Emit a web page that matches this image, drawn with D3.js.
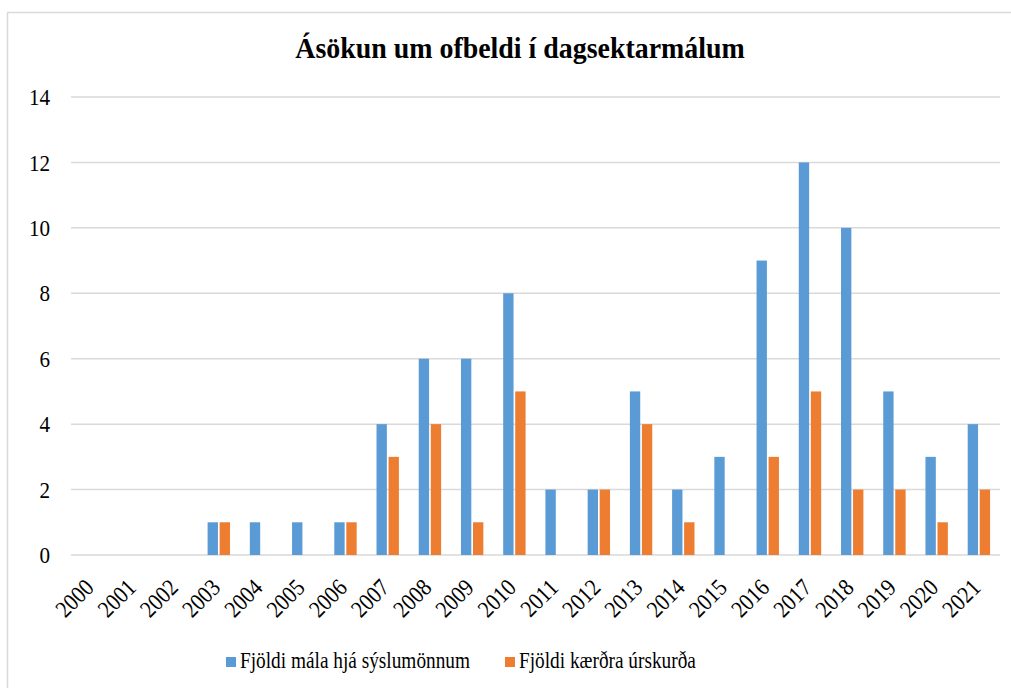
<!DOCTYPE html>
<html>
<head>
<meta charset="utf-8">
<script src="https://cdn.jsdelivr.net/npm/d3@7"></script>
<style>
  body { margin: 0; background: #fff; }
</style>
</head>
<body>
<svg class="chart"></svg>
<script>
const years = ["2000","2001","2002","2003","2004","2005","2006","2007","2008","2009","2010",
               "2011","2012","2013","2014","2015","2016","2017","2018","2019","2020","2021"];
const malaSyslumonnum = [0,0,0,1,1,1,1,4,6,6,8,2,2,5,2,3,9,12,10,5,3,4];
const kaerdraUrskurda = [0,0,0,1,0,0,1,3,4,1,5,0,2,4,1,0,3,5,2,2,1,2];
const seriesNames = ["Fjöldi mála hjá sýslumönnum", "Fjöldi kærðra úrskurða"];
const colors = ["#5B9BD5", "#ED7D31"];
const yTicks = [0, 2, 4, 6, 8, 10, 12, 14];

const FONT = "'Liberation Serif', 'Times New Roman', serif";
const W = 1011, H = 688;
const margin = { top: 97, right: 11, bottom: 133, left: 71 },
      width = W - margin.left - margin.right,
      height = H - margin.top - margin.bottom;

const root = d3.select(".chart").attr("width", W).attr("height", H);

// outer frame
root.append("rect")
    .attr("x", 7.5).attr("y", 12.5)
    .attr("width", W + 10).attr("height", H + 10)
    .attr("fill", "none").attr("stroke", "#d9d9d9").attr("stroke-width", 1.5);

root.append("text")
    .attr("transform", "translate(520, 58) scale(0.93, 1)")
    .attr("text-anchor", "middle")
    .style("font-family", FONT)
    .style("font-weight", "bold")
    .style("font-size", "30px")
    .text("Ásökun um ofbeldi í dagsektarmálum");

const svg = root.append("g")
    .attr("transform", `translate(${margin.left}, ${margin.top})`);

const x = d3.scaleBand().domain(years).range([0, width]).padding(0);
const x1 = d3.scaleBand().domain([0, 1]).range([x.bandwidth() * 0.235, x.bandwidth() * 0.765]).paddingInner(0.14);
const y = d3.scaleLinear().domain([0, 14]).range([height, 0]);

// gridlines
svg.append("g")
    .selectAll("line")
    .data(yTicks)
    .enter().append("line")
    .attr("x1", 0).attr("x2", width)
    .attr("y1", d => y(d)).attr("y2", d => y(d))
    .attr("stroke", "#d9d9d9").attr("stroke-width", 1.5);

// y axis labels
const yAxis = svg.append("g")
    .call(d3.axisLeft(y).tickValues(yTicks).tickSize(0).tickPadding(21));
yAxis.select(".domain").remove();
yAxis.selectAll("text")
    .style("font-family", FONT)
    .style("font-size", "24px")
    .attr("fill", "#000")
    .attr("transform", "translate(-21, 0) scale(0.88, 1) translate(21, 0)");

// bars
const table = years.map((yr, i) => ({ year: yr, values: [malaSyslumonnum[i], kaerdraUrskurda[i]] }));
svg.append("g")
    .selectAll("g")
    .data(table)
    .enter().append("g")
    .attr("transform", d => `translate(${x(d.year)},0)`)
    .selectAll("rect")
    .data(d => d.values.map((v, k) => ({ k, v })))
    .enter().append("rect")
    .attr("x", d => x1(d.k))
    .attr("width", x1.bandwidth())
    .attr("y", d => y(d.v))
    .attr("height", d => height - y(d.v))
    .attr("fill", d => colors[d.k]);

// x axis labels
const xAxis = svg.append("g")
    .attr("transform", `translate(0, ${height})`)
    .call(d3.axisBottom(x).tickSize(0).tickPadding(0));
xAxis.select(".domain").remove();
xAxis.selectAll("text")
    .style("font-family", FONT)
    .style("font-size", "24px")
    .attr("fill", "#000")
    .attr("text-anchor", "end")
    .attr("dy", null).attr("y", 0)
    .attr("transform", "translate(3, 34) rotate(-45) scale(0.88, 1)");

// legend
const legend = root.append("g").attr("transform", "translate(226, 668)");
const legendX = [0, 279];
seriesNames.forEach((name, i) => {
  const g = legend.append("g").attr("transform", `translate(${legendX[i]}, 0)`);
  g.append("rect").attr("x", 0).attr("y", -11).attr("width", 10).attr("height", 10).attr("fill", colors[i]);
  g.append("text")
      .attr("transform", "translate(14, 0) scale(0.84, 1)")
      .style("font-family", FONT)
      .style("font-size", "23px")
      .text(name);
});
</script>
</body>
</html>
